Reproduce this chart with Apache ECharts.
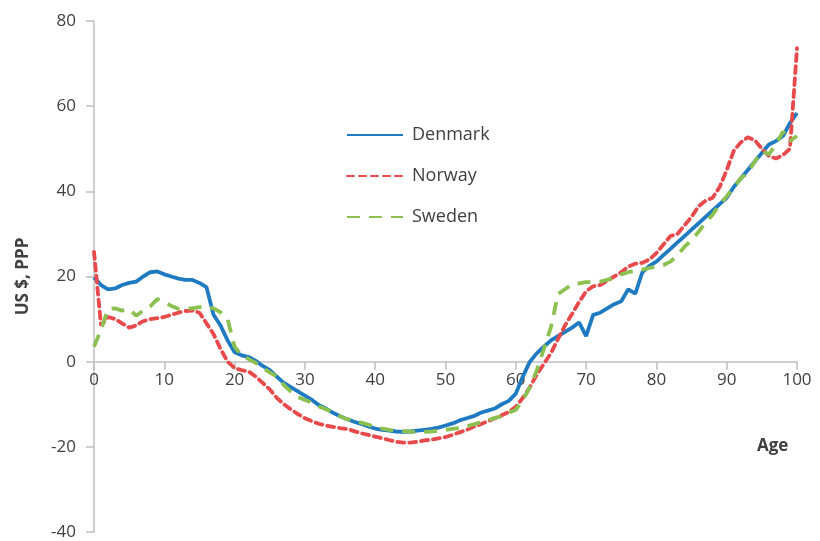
<!DOCTYPE html>
<html>
<head>
<meta charset="utf-8">
<script src="https://cdn.jsdelivr.net/npm/echarts@6/dist/echarts.min.js"></script>
<style>
  html, body { margin: 0; padding: 0; background: #fff; }
  #chart { width: 820px; height: 541px; }
</style>
</head>
<body>
<div id="chart"></div>
<script>
const ages = Array.from({ length: 101 }, (_, i) => i)

const denmark = [
  19.8, 18, 17, 17.2, 18, 18.5, 18.8, 20, 21, 21.2,
  20.5, 20, 19.5, 19.2, 19.2, 18.5, 17.5, 11, 8.5, 5,
  2.2, 1.5, 1.1, 0.2, -1, -2, -3.5, -5, -6, -7,
  -8, -9, -10.2, -11, -12, -12.8, -13.5, -14.1, -14.6, -15.2,
  -15.7, -16, -16.2, -16.4, -16.5, -16.4, -16.2, -16, -15.8, -15.5,
  -15, -14.5, -13.8, -13.3, -12.8, -12, -11.5, -11, -10, -9.2,
  -7.5, -3.5, 0, 2, 3.5, 5, 6, 7, 8, 9.2,
  6, 11, 11.5, 12.5, 13.5, 14.2, 17, 16, 21, 22.5,
  23.5, 25, 26.5, 28, 29.5, 31, 32.5, 34, 35.5, 37,
  38.5, 41, 43, 45, 47, 49, 51, 51.8, 53, 56,
  58.4
]

const norway = [
  25.8, 8.5, 10.5, 10, 9, 8, 8.5, 9.5, 10, 10.2,
  10.5, 11, 11.5, 11.9, 12, 11.5, 9, 6.5, 3, 0,
  -1.5, -2, -2.3, -3.5, -5, -6.5, -8.5, -10, -11.2, -12.3,
  -13.3, -14, -14.6, -15, -15.3, -15.6, -15.8, -16.3, -16.8, -17.2,
  -17.6, -18, -18.4, -18.8, -19, -19, -18.8, -18.5, -18.3, -18,
  -17.7, -17.2, -16.6, -16, -15.3, -14.7, -14, -13.3, -12.6, -11.8,
  -10.6, -8.5, -6, -3, -0.5, 2, 5.3, 8.5, 11.2, 14,
  16.5, 17.7, 18, 19, 20, 21, 22.3, 23, 23.2, 24,
  25.5, 27.5, 29.5, 30, 32, 34, 36.5, 37.8, 38.5, 41,
  45, 49.5, 51.5, 52.7, 52, 50, 48.3, 47.7, 48.5, 50,
  73.6
]

const sweden = [
  3.5, 7.5, 12.4, 12.5, 12, 12.3, 10.8, 12, 13, 14.7,
  14, 13.1, 12.4, 12.5, 12.5, 12.8, 13, 12.5, 11.6, 10,
  3.5, 1.5, 0.6, -0.3, -1.5, -2.5, -3.5, -5.5, -7, -8.3,
  -9, -9.6, -10.5, -11.2, -11.8, -12.8, -13.5, -14, -14.3, -14.8,
  -15.3, -15.7, -16, -16.2, -16.3, -16.4, -16.6, -16.5, -16.4, -16.2,
  -16, -15.8, -15.6, -15.2, -14.7, -14.3, -13.8, -13.2, -12.8, -12,
  -11.3, -9, -6, -2, 3, 8.1, 15.9, 17, 18.2, 18.4,
  18.7, 18.7, 18.8, 19.2, 19.8, 20.5, 21, 21.3, 21.6, 22,
  22.3, 22.7, 23.5, 25, 27, 28.5, 30.5, 32.7, 34.5, 37,
  38.8, 41, 43, 44.4, 47, 49.4, 48.7, 51, 54, 51.8,
  53
]

const yTicks = { min: -40, max: 80, interval: 20 }
const xTicks = { min: 0, max: 100, interval: 10 }

const font = '"Open Sans", "Noto Sans", sans-serif'
const axisGrey = '#bfbfbf'
const textGrey = '#404040'

const pairs = vals => ages.map((a, i) => [a, vals[i]])

const chart = echarts.init(document.getElementById('chart'))
chart.setOption({
  animation: false,
  backgroundColor: '#fff',
  grid: [
    { left: 94, right: 23, top: 21, bottom: 9, outerBoundsMode: 'none' },
    // thin helper grid whose bottom edge sits on y = 0, only for the age labels
    { left: 94, right: 23, top: 300, bottom: 178.7, outerBoundsMode: 'none' },
  ],
  legend: {
    orient: 'vertical',
    left: 341,
    top: 121,
    itemWidth: 56,
    itemHeight: 14,
    itemGap: 23,
    itemStyle: { color: 'rgba(0,0,0,0)', borderWidth: 0 },
    textStyle: { color: textGrey, fontSize: 18, fontFamily: font, padding: [0, 0, 0, 4] },
    data: ['Denmark', 'Norway', 'Sweden'],
  },
  xAxis: [
    {
      type: 'value', gridIndex: 0,
      min: xTicks.min, max: xTicks.max, interval: xTicks.interval,
      axisLine: { onZero: true, lineStyle: { color: axisGrey, width: 1.5 } },
      axisTick: { show: true, length: 8, lineStyle: { color: axisGrey, width: 1.5 } },
      axisLabel: { show: false },
      splitLine: { show: false },
    },
    {
      type: 'value', gridIndex: 1, position: 'bottom',
      min: xTicks.min, max: xTicks.max, interval: xTicks.interval,
      axisLine: { show: false, onZero: false },
      axisTick: { show: false },
      axisLabel: { show: true, color: textGrey, fontSize: 17, fontFamily: font, margin: 9 },
      splitLine: { show: false },
    },
  ],
  yAxis: [
    {
      type: 'value', gridIndex: 0,
      min: yTicks.min, max: yTicks.max, interval: yTicks.interval,
      name: 'US $, PPP',
      nameLocation: 'middle',
      nameRotate: 90,
      nameGap: 62,
      nameTextStyle: { color: textGrey, fontSize: 17, fontWeight: 'bold', fontFamily: font },
      axisLine: { show: true, lineStyle: { color: axisGrey, width: 1.5 } },
      axisTick: { show: true, length: 8, lineStyle: { color: axisGrey, width: 1.5 } },
      axisLabel: { color: textGrey, fontSize: 17, fontFamily: font, margin: 18 },
      splitLine: { show: false },
    },
    { type: 'value', gridIndex: 1, show: false },
  ],
  graphic: [{
    type: 'text',
    left: 757,
    top: 438,
    style: { text: 'Age', fill: textGrey, font: 'bold 17px ' + font },
  }],
  series: [
    {
      name: 'Denmark', type: 'line', data: pairs(denmark),
      showSymbol: false, symbol: 'none',
      lineStyle: { color: '#1f7bc1', width: 3.8 },
      itemStyle: { color: '#1f7bc1' },
    },
    {
      name: 'Norway', type: 'line', data: pairs(norway),
      showSymbol: false, symbol: 'none',
      lineStyle: { color: '#e8494b', width: 3.8, type: [7, 5], cap: 'round' },
      itemStyle: { color: '#e8494b' },
    },
    {
      name: 'Sweden', type: 'line', data: pairs(sweden),
      showSymbol: false, symbol: 'none',
      lineStyle: { color: '#8cc152', width: 3.8, type: [13, 9] },
      itemStyle: { color: '#8cc152' },
    },
  ],
})
</script>
</body>
</html>
